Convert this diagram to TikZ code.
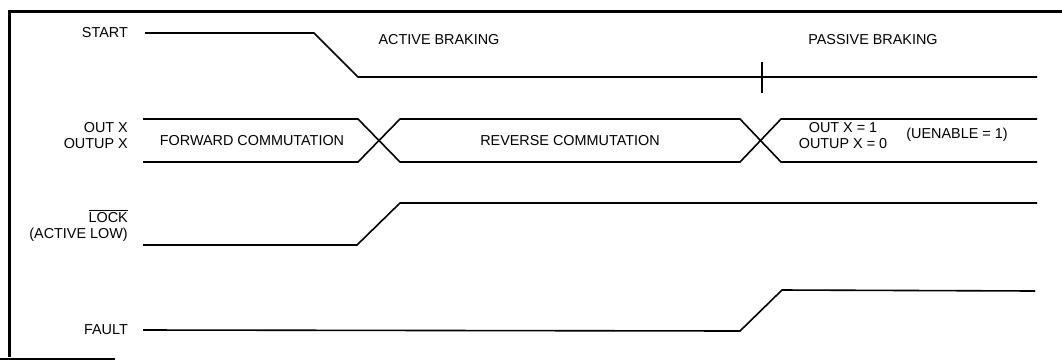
\documentclass[tikz,border=0pt]{standalone}
\usepackage{fontspec}
\setmainfont{Liberation Sans}
\begin{document}
\begin{tikzpicture}[x=1pt,y=-1pt,
  sig/.style={line width=1.6pt,line join=miter},
  frame/.style={line width=3pt},
  lbl/.style={font=\fontsize{14.4}{16}\selectfont,inner sep=0pt,align=right,anchor=east},
  txt/.style={font=\fontsize{14.4}{16}\selectfont,inner sep=0pt,align=center}]
\useasboundingbox (0,0) rectangle (1062,360);
% frame
\draw[frame] (9,357) -- (9,11) -- (1062,11);
\draw[line width=2pt] (0,358.5) -- (115,358.5);
% labels
\node[lbl] (lstart) at (128,33) {START};
\node[lbl] (lout) at (128,135.5) {OUT X\\OUTUP X};
\node[lbl] (llock) at (128,225.5) {$\overline{\mbox{LOCK}}$\\(ACTIVE LOW)};
\node[lbl] (lfault) at (128,330) {FAULT};
% START
\coordinate (s0) at (145,33);
\coordinate (s1) at (314,33);
\coordinate (s2) at (358,77);
\coordinate (s3) at (1037,77);
\draw[sig] (s0) -- (s1) -- (s2) -- (s3);
\coordinate (t0) at (762,62);
\coordinate (t1) at (762,93);
\draw[sig] (t0) -- (t1);
\node[txt] (ab) at (439,40) {ACTIVE BRAKING};
\node[txt] (pb) at (873,40) {PASSIVE BRAKING};
% OUT X bus
\coordinate (a0) at (143,119);
\coordinate (a1) at (358,119);
\coordinate (a2) at (400,119);
\coordinate (a3) at (740,119);
\coordinate (a4) at (781,119);
\coordinate (a5) at (1037,119);
\coordinate (b0) at (143,162);
\coordinate (b1) at (358,162);
\coordinate (b2) at (400,162);
\coordinate (b3) at (740,162);
\coordinate (b4) at (781,162);
\coordinate (b5) at (1037,162);
\draw[sig] (a0) -- (a1) -- (b2) -- (b3) -- (a4) -- (a5);
\draw[sig] (b0) -- (b1) -- (a2) -- (a3) -- (b4) -- (b5);
\node[txt] (fc) at (252,140.5) {FORWARD COMMUTATION};
\node[txt] (rc) at (570,140.5) {REVERSE COMMUTATION};
\node[txt] (ox) at (843,135.5) {OUT X = 1\\OUTUP X = 0};
\node[txt] (ue) at (957,135) {(UENABLE = 1)};
% LOCK
\coordinate (l0) at (143,245);
\coordinate (l1) at (357,245);
\coordinate (l2) at (400,203);
\coordinate (l3) at (1037,203);
\draw[sig] (l0) -- (l1) -- (l2) -- (l3);
% FAULT
\coordinate (f0) at (143,330);
\coordinate (f1) at (740,331);
\coordinate (f2) at (782,290);
\coordinate (f3) at (1035,291);
\draw[sig] (f0) -- (f1) -- (f2) -- (f3);
\end{tikzpicture}
\end{document}
